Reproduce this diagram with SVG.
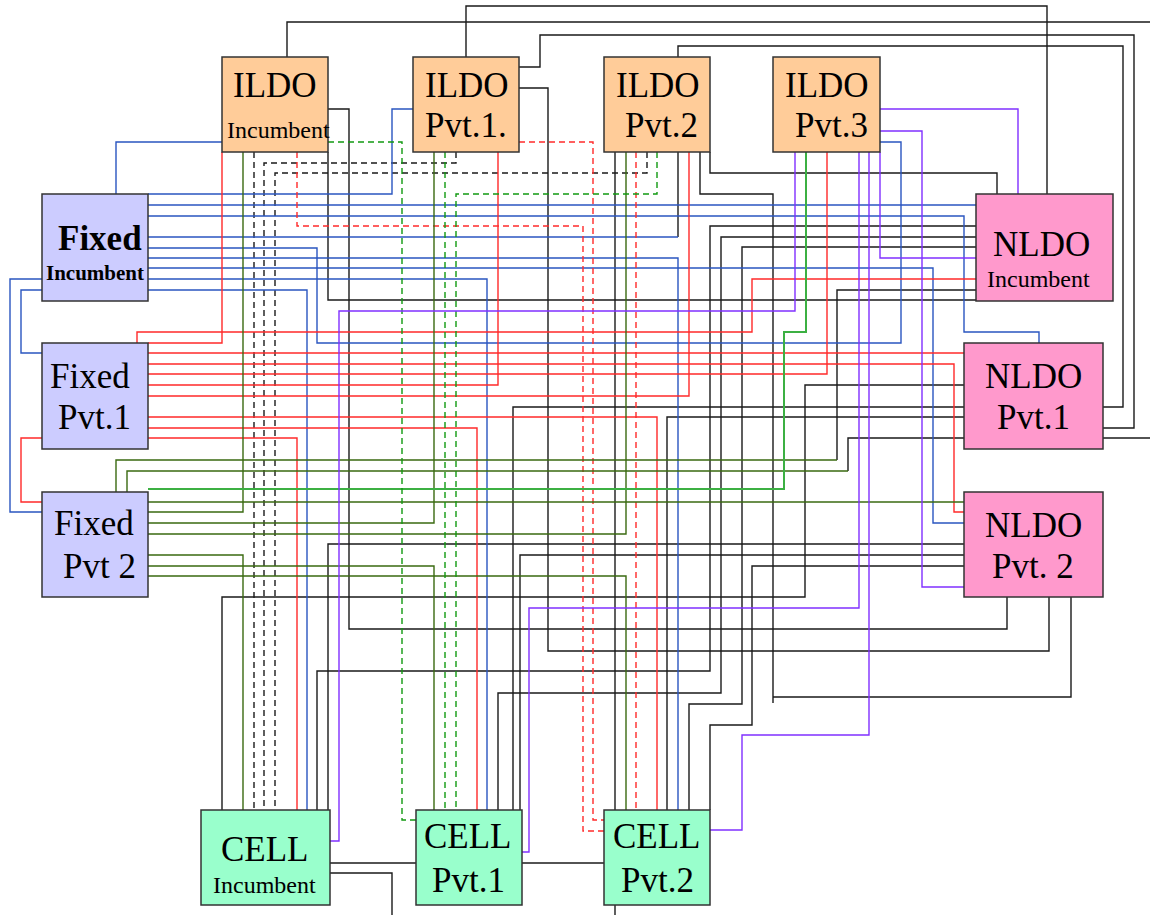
<svg xmlns="http://www.w3.org/2000/svg" width="1150" height="915" viewBox="0 0 1150 915">
<style>
.c{fill:none;stroke-width:1.4;stroke-linejoin:miter}
.k{stroke:#1a1a1a}
.kd{stroke:#1a1a1a;stroke-dasharray:6,4}
.b{stroke:#2a55c0}
.r{stroke:#ff2a2a}
.rd{stroke:#ff2a2a;stroke-dasharray:6,4}
.g{stroke:#3a6a10}
.lg{stroke:#3cb043;stroke-width:2}
.gd{stroke:#119911;stroke-dasharray:6,4}
.p{stroke:#8030ff}
.box{stroke:#333;stroke-width:1.5}
.il{fill:#ffcc99}
.nl{fill:#ff99cc}
.fx{fill:#ccccff}
.ce{fill:#99ffcc}
text{font-family:"Liberation Serif","Times New Roman",serif;fill:#000}
.big{font-size:35px}
.sm{font-size:24px}
</style>
<rect width="1150" height="915" fill="#fff"/>
<g id="connectors" class="c">
<polyline class="k" points="287,57 287,22 1150,22"/>
<polyline class="k" points="466,57 466,6 1047,6 1047,194"/>
<polyline class="k" points="519,67 540,67 540,35 1134,35 1134,428 1103,428"/>
<polyline class="k" points="678,57 678,46 1123,46 1123,407 1103,407"/>
<polyline class="k" points="1103,438 1150,438"/>
<polyline class="k" points="328,109 349,109 349,629 1007,629 1007,597"/>
<polyline class="k" points="519,88 548,88 548,651 1049,651 1049,597"/>
<polyline class="k" points="700,152 700,194 773,194 773,703"/>
<polyline class="k" points="773,697 1071,697 1071,597"/>
<polyline class="k" points="710,152 710,173 997,173 997,194"/>
<polyline class="k" points="328,152 328,300 976,300"/>
<polyline class="k" points="615,152 615,810"/>
<polyline class="k" points="678,152 678,237"/>
<polyline class="k" points="976,226 710,226 710,671 317,671 317,810"/>
<polyline class="k" points="976,237 721,237 721,693 498,693 498,810"/>
<polyline class="k" points="976,247 742,247 742,704 689,704 689,810"/>
<polyline class="k" points="976,290 837,290 837,460"/>
<polyline class="k" points="964,438 848,438 848,471"/>
<polyline class="k" points="964,385 805,385 805,597 222,597 222,810"/>
<polyline class="k" points="964,407 513,407 513,810"/>
<polyline class="k" points="964,417 667,417 667,810"/>
<polyline class="k" points="964,544 328,544 328,810"/>
<polyline class="k" points="964,555 520,555 520,810"/>
<polyline class="k" points="964,566 752,566 752,725 710,725 710,810"/>
<polyline class="k" points="330,863 416,863"/>
<polyline class="k" points="330,873 392,873 392,915"/>
<polyline class="k" points="522,863 604,863"/>
<polyline class="k" points="615,905 615,915"/>
<polyline class="kd" points="254,152 254,810"/>
<polyline class="kd" points="456,152 456,163 264,163 264,810"/>
<polyline class="kd" points="647,152 647,173 275,173 275,810"/>
<polyline class="b" points="148,194 392,194 392,109 413,109"/>
<polyline class="b" points="116,194 116,142 222,142"/>
<polyline class="b" points="148,205 976,205"/>
<polyline class="b" points="148,216 964,216 964,332 1039,332 1039,343"/>
<polyline class="b" points="148,237 678,237"/>
<polyline class="b" points="148,248 317,248 317,343 901,343 901,142 880,142"/>
<polyline class="b" points="148,258 678,258 678,810"/>
<polyline class="b" points="148,268 933,268 933,523 964,523"/>
<polyline class="b" points="148,279 487,279 487,810"/>
<polyline class="b" points="148,290 307,290 307,810"/>
<polyline class="b" points="42,279 10,279 10,512 42,512"/>
<polyline class="b" points="42,290 21,290 21,353 42,353"/>
<polyline class="r" points="222,152 222,343 148,343"/>
<polyline class="r" points="137,343 137,332 752,332 752,279 976,279"/>
<polyline class="r" points="498,152 498,385 148,385"/>
<polyline class="r" points="689,152 689,396 148,396"/>
<polyline class="r" points="827,152 827,374 148,374"/>
<polyline class="r" points="148,353 964,353"/>
<polyline class="r" points="148,364 954,364 954,512 964,512"/>
<polyline class="r" points="148,417 657,417 657,810"/>
<polyline class="r" points="148,428 477,428 477,810"/>
<polyline class="r" points="148,438 297,438 297,810"/>
<polyline class="r" points="42,438 21,438 21,502 42,502"/>
<polyline class="rd" points="297,152 297,226 583,226 583,831 604,831"/>
<polyline class="rd" points="519,142 593,142 593,820 604,820"/>
<polyline class="rd" points="636,152 636,810"/>
<polyline class="g" points="243,152 243,512 148,512"/>
<polyline class="g" points="148,555 243,555 243,810"/>
<polyline class="g" points="434,152 434,523 148,523"/>
<polyline class="g" points="148,566 434,566 434,810"/>
<polyline class="g" points="626,152 626,534 148,534"/>
<polyline class="g" points="148,576 626,576 626,810"/>
<polyline class="g" points="148,502 964,502"/>
<polyline class="g" points="837,460 116,460 116,492"/>
<polyline class="g" points="848,471 127,471 127,492"/>
<polyline class="lg" points="806,152 806,332 784,332 784,489 148,489"/>
<polyline class="gd" points="328,142 402,142 402,820 416,820"/>
<polyline class="gd" points="445,152 445,810"/>
<polyline class="gd" points="657,152 657,194 456,194 456,810"/>
<polyline class="p" points="795,152 795,311 339,311 339,841 330,841"/>
<polyline class="p" points="859,152 859,608 529,608 529,852 522,852"/>
<polyline class="p" points="869,152 869,735 742,735 742,830 710,830"/>
<polyline class="p" points="880,131 922,131 922,587 964,587"/>
<polyline class="p" points="880,109 1018,109 1018,194"/>
<polyline class="p" points="880,152 880,258 976,258"/>
</g>
<g id="ildo-incumbent"><rect class="box il" x="222" y="57" width="106" height="95"/><text class="big" x="233" y="97">ILDO</text><text class="sm" x="227" y="138">Incumbent</text></g>
<g id="ildo-pvt1"><rect class="box il" x="413" y="57" width="106" height="95"/><text class="big" x="425" y="97">ILDO</text><text class="big" x="425" y="137">Pvt.1.</text></g>
<g id="ildo-pvt2"><rect class="box il" x="604" y="57" width="106" height="95"/><text class="big" x="616" y="97">ILDO</text><text class="big" x="625" y="137">Pvt.2</text></g>
<g id="ildo-pvt3"><rect class="box il" x="773" y="57" width="107" height="95"/><text class="big" x="785" y="97">ILDO</text><text class="big" x="795" y="137">Pvt.3</text></g>
<g id="nldo-incumbent"><rect class="box nl" x="976" y="194" width="137" height="107"/><text class="big" x="993" y="256">NLDO</text><text class="sm" x="987" y="287">Incumbent</text></g>
<g id="nldo-pvt1"><rect class="box nl" x="964" y="343" width="139" height="106"/><text class="big" x="985" y="388">NLDO</text><text class="big" x="997" y="429">Pvt.1</text></g>
<g id="nldo-pvt2"><rect class="box nl" x="964" y="492" width="139" height="105"/><text class="big" x="985" y="537">NLDO</text><text class="big" x="992" y="578">Pvt. 2</text></g>
<g id="fixed-incumbent"><rect class="box fx" x="42" y="194" width="106" height="107"/><text class="big" x="58" y="250" font-weight="bold">Fixed</text><text x="46" y="280" font-size="21" font-weight="bold">Incumbent</text></g>
<g id="fixed-pvt1"><rect class="box fx" x="42" y="343" width="106" height="106"/><text class="big" x="50" y="388">Fixed</text><text class="big" x="58" y="429">Pvt.1</text></g>
<g id="fixed-pvt2"><rect class="box fx" x="42" y="492" width="106" height="105"/><text class="big" x="54" y="535">Fixed</text><text class="big" x="63" y="578">Pvt 2</text></g>
<g id="cell-incumbent"><rect class="box ce" x="201" y="810" width="129" height="95"/><text class="big" x="221" y="861">CELL</text><text class="sm" x="213" y="893">Incumbent</text></g>
<g id="cell-pvt1"><rect class="box ce" x="416" y="810" width="106" height="95"/><text class="big" x="424" y="848">CELL</text><text class="big" x="432" y="892">Pvt.1</text></g>
<g id="cell-pvt2"><rect class="box ce" x="604" y="810" width="106" height="95"/><text class="big" x="613" y="848">CELL</text><text class="big" x="621" y="892">Pvt.2</text></g>
</svg>
